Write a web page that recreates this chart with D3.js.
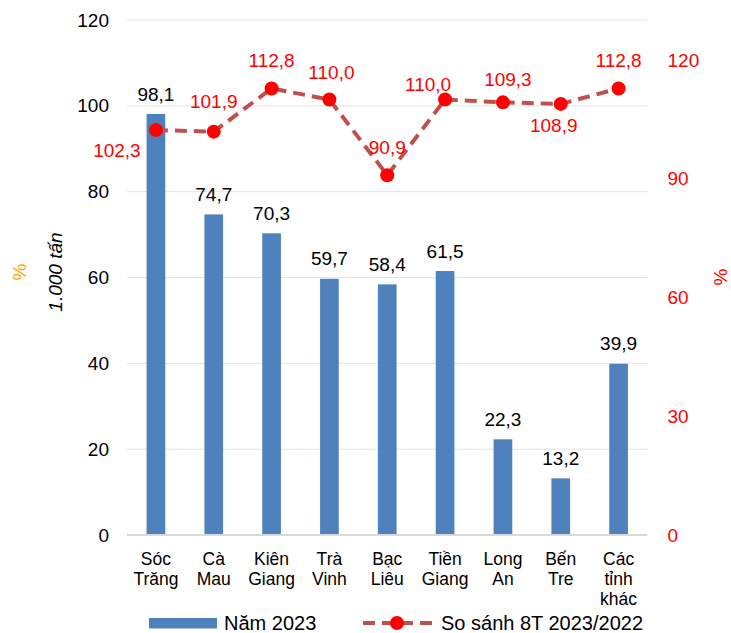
<!DOCTYPE html>
<html>
<head>
<meta charset="utf-8">
<script src="https://cdn.jsdelivr.net/npm/d3@7/dist/d3.min.js"></script>
<style>
  html, body { margin: 0; padding: 0; background: #fff; }
  svg { display: block; font-family: "Liberation Sans", Arial, sans-serif; }
</style>
</head>
<body>
<svg id="chart" width="731" height="633"></svg>
<script>
// ---- data ----
const categories = [
  ["Sóc", "Trăng"], ["Cà", "Mau"], ["Kiên", "Giang"], ["Trà", "Vinh"],
  ["Bạc", "Liêu"], ["Tiền", "Giang"], ["Long", "An"], ["Bến", "Tre"],
  ["Các", "tỉnh", "khác"]
];
const volume2023 = [98.1, 74.7, 70.3, 59.7, 58.4, 61.5, 22.3, 13.2, 39.9];
const compare8T = [102.3, 101.9, 112.8, 110.0, 90.9, 110.0, 109.3, 108.9, 112.8];
const leftTicks = [0, 20, 40, 60, 80, 100, 120];
const rightTicks = [0, 30, 60, 90, 120];
const seriesNames = ["Năm 2023", "So sánh 8T 2023/2022"];
const leftTitle = "1.000 tấn";
const leftTitle2 = "%";
const rightTitle = "%";
// label placement for line values: offset of label centre from point
const lineLabelOffsets = [[-39, 20], [0, -30], [0, -28], [2, -27], [0, -28], [-17, -15], [5, -23], [-7, 21], [0, -28]];

const fmt = v => v.toFixed(1).replace(".", ",");

const svg = d3.select("#chart");
const M = { left: 127, right: 647.5, top: 20, bottom: 535 };

const x = d3.scaleBand()
  .domain(d3.range(categories.length))
  .range([M.left, M.right])
  .paddingInner(0.677)
  .paddingOuter(0.3385);
const yL = d3.scaleLinear().domain([0, 120]).range([M.bottom, M.top]);
const yR = d3.scaleLinear().domain([0, 130]).range([M.bottom, M.top + 0.4]);
const cx = i => x(i) + x.bandwidth() / 2;

// gridlines
svg.append("g").selectAll("line")
  .data(leftTicks.filter(t => t > 0))
  .join("line")
  .attr("x1", M.left).attr("x2", M.right)
  .attr("y1", d => yL(d)).attr("y2", d => yL(d))
  .attr("stroke", "#E4E4E4").attr("stroke-width", 1);

// left axis
const axL = svg.append("g").attr("transform", `translate(${M.left},0)`)
  .call(d3.axisLeft(yL).tickValues(leftTicks).tickSize(0).tickPadding(18).tickFormat(d => d));
axL.select(".domain").remove();
axL.selectAll("text").attr("font-size", 19).attr("fill", "#000").attr("font-family", "Liberation Sans, Arial, sans-serif");

// right axis
const axR = svg.append("g").attr("transform", `translate(${M.right},0)`)
  .call(d3.axisRight(yR).tickValues(rightTicks).tickSize(0).tickPadding(20).tickFormat(d => d));
axR.select(".domain").remove();
axR.selectAll("text").attr("font-size", 19).attr("fill", "#FF0000").attr("font-family", "Liberation Sans, Arial, sans-serif");

// bars
svg.append("g").selectAll("rect")
  .data(volume2023)
  .join("rect")
  .attr("x", (d, i) => x(i))
  .attr("width", x.bandwidth())
  .attr("y", d => yL(d))
  .attr("height", d => yL(0) - yL(d))
  .attr("fill", "#4F81BD");

// baseline
svg.append("line")
  .attr("x1", M.left).attr("x2", M.right)
  .attr("y1", yL(0)).attr("y2", yL(0))
  .attr("stroke", "#D9D9D9").attr("stroke-width", 2);

// bar labels
svg.append("g").selectAll("text")
  .data(volume2023)
  .join("text")
  .attr("x", (d, i) => cx(i))
  .attr("y", d => yL(d) - 20)
  .attr("dy", "0.35em")
  .attr("text-anchor", "middle")
  .attr("font-size", 19)
  .attr("fill", "#000")
  .text(d => fmt(d));

// category labels
const catG = svg.append("g");
categories.forEach((lines, i) => {
  const t = catG.append("text")
    .attr("text-anchor", "middle")
    .attr("font-size", 17.5)
    .attr("fill", "#000");
  lines.forEach((ln, j) => {
    t.append("tspan").attr("x", cx(i)).attr("y", 559 + j * 20).attr("dy", "0.35em").text(ln);
  });
});

// line series
const line = d3.line().x((d, i) => cx(i)).y(d => yR(d));
svg.append("path")
  .datum(compare8T)
  .attr("d", line)
  .attr("fill", "none")
  .attr("stroke", "#C0504D")
  .attr("stroke-width", 4)
  .attr("stroke-dasharray", "12,7");
svg.append("g").selectAll("circle")
  .data(compare8T)
  .join("circle")
  .attr("cx", (d, i) => cx(i))
  .attr("cy", d => yR(d))
  .attr("r", 7)
  .attr("fill", "#FF0000");

svg.append("g").selectAll("text")
  .data(compare8T)
  .join("text")
  .attr("x", (d, i) => cx(i) + lineLabelOffsets[i][0])
  .attr("y", (d, i) => yR(d) + lineLabelOffsets[i][1])
  .attr("dy", "0.35em")
  .attr("text-anchor", "middle")
  .attr("font-size", 19)
  .attr("fill", "#FF0000")
  .text(d => fmt(d));

// axis titles
svg.append("text")
  .attr("transform", "translate(55,272) rotate(-90)")
  .attr("dy", "0.35em")
  .attr("text-anchor", "middle")
  .attr("font-size", 19)
  .attr("font-style", "italic")
  .attr("fill", "#000")
  .text(leftTitle);
svg.append("text")
  .attr("transform", "translate(19.5,272) rotate(-90)")
  .attr("dy", "0.35em")
  .attr("text-anchor", "middle")
  .attr("font-size", 19)
  .attr("fill", "#FFA500")
  .text(leftTitle2);
svg.append("text")
  .attr("transform", "translate(720.5,277) rotate(-90)")
  .attr("dy", "0.35em")
  .attr("text-anchor", "middle")
  .attr("font-size", 19)
  .attr("fill", "#FF0000")
  .text(rightTitle);

// legend
const lg = svg.append("g");
lg.append("rect").attr("x", 149).attr("y", 618).attr("width", 68).attr("height", 10.5).attr("fill", "#4F81BD");
lg.append("text").attr("x", 224).attr("y", 622.5).attr("dy", "0.35em").attr("font-size", 20).attr("fill", "#000").text(seriesNames[0]);
lg.append("line").attr("x1", 363).attr("x2", 434).attr("y1", 623).attr("y2", 623)
  .attr("stroke", "#C0504D").attr("stroke-width", 4).attr("stroke-dasharray", "12,7");
lg.append("circle").attr("cx", 397).attr("cy", 623).attr("r", 7).attr("fill", "#FF0000");
lg.append("text").attr("x", 441).attr("y", 622.5).attr("dy", "0.35em").attr("font-size", 20).attr("fill", "#000").text(seriesNames[1]);
</script>
</body>
</html>
